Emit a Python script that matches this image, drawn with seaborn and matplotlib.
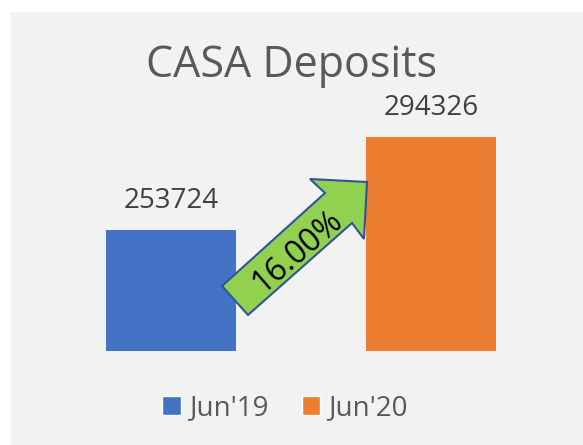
import matplotlib
matplotlib.use("Agg")
import matplotlib.pyplot as plt
import seaborn as sns
import pandas as pd
from matplotlib.patches import Rectangle, Polygon

# chart data
periods = ["Jun'19", "Jun'20"]
deposits = [253724, 294326]
bar_colors = ["#4472C4", "#ED7D31"]
growth_label = "16.00%"

W, H = 583, 445


def fx(px):
    return px / W


def fy(py):
    return 1 - py / H


sns.set_theme(style="white")
plt.rcParams['font.family'] = ['Open Sans', 'DejaVu Sans']

fig = plt.figure(figsize=(W / 100, H / 100), dpi=100)
fig.patch.set_facecolor("white")
fig.patches.append(Rectangle((fx(11), 0), 1 - fx(11), fy(12), transform=fig.transFigure,
                             facecolor="#F2F2F2", edgecolor="none", zorder=-1))

ax = fig.add_axes([fx(41), fy(351), fx(561) - fx(41), fy(100) - fy(351)])
ax.set_facecolor("none")

df = pd.DataFrame({"period": periods, "value": deposits})
sns.barplot(data=df, x="period", y="value", hue="period", palette=bar_colors,
            width=0.5, dodge=False, legend=False, ax=ax, saturation=1, linewidth=0)

ax.set_ylim(201000, 310360)
ax.set_xlim(-0.5, 1.5)
ax.axis("off")

for i, v in enumerate(deposits):
    ax.text(i, v + 12500, str(v), ha="center", va="center", fontsize=20, color="#404040")

fig.text(0.5, fy(66), "CASA Deposits", ha="center", va="center", fontsize=31, color="#595959")

# legend
handles = [Rectangle((0, 0), 1, 1, facecolor=c) for c in bar_colors]
fig.legend(handles, periods, loc="center", bbox_to_anchor=(fx(285), fy(408)), ncol=2,
           frameon=False, fontsize=20, labelcolor="#595959", handlelength=0.65,
           handleheight=0.65, handletextpad=0.3, columnspacing=1.2)

# growth arrow
arrow_px = [(222, 286), (325, 193), (310, 179), (367, 182), (364, 239), (352, 223), (248, 315)]
fig.patches.append(Polygon([(fx(x), fy(y)) for x, y in arrow_px], closed=True,
                           transform=fig.transFigure, facecolor="#92D050",
                           edgecolor="#2F5597", linewidth=1.5, zorder=5))
fig.text(fx(297), fy(252), growth_label, ha="center", va="center", rotation=41,
         fontsize=23, color="black", zorder=6)

fig.savefig("out.png", dpi=100)
